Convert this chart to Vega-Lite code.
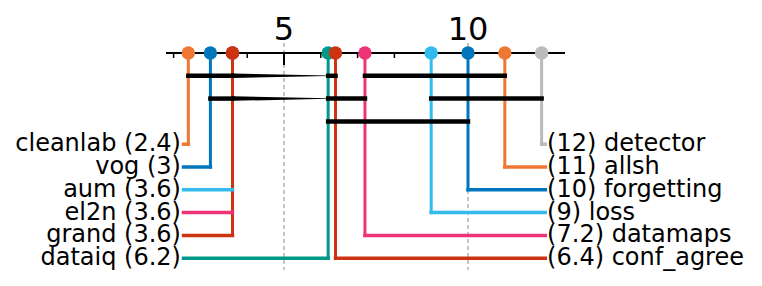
{
  "$schema": "https://vega.github.io/schema/vega-lite/v6.json",
  "width": 762,
  "height": 286,
  "autosize": "none",
  "padding": 0,
  "background": "white",
  "config": {"view": {"stroke": null}, "font": "DejaVu Sans"},
  "datasets": {
    "methods": [
      {"name": "cleanlab", "rank": 2.4, "side": "left", "row": 4, "label": "cleanlab (2.4)"},
      {"name": "vog", "rank": 3, "side": "left", "row": 5, "label": "vog (3)"},
      {"name": "aum", "rank": 3.6, "side": "left", "row": 6, "label": "aum (3.6)"},
      {"name": "el2n", "rank": 3.6, "side": "left", "row": 7, "label": "el2n (3.6)"},
      {"name": "grand", "rank": 3.6, "side": "left", "row": 8, "label": "grand (3.6)"},
      {"name": "dataiq", "rank": 6.2, "side": "left", "row": 9, "label": "dataiq (6.2)"},
      {"name": "conf_agree", "rank": 6.4, "side": "right", "row": 9, "label": "(6.4) conf_agree"},
      {"name": "datamaps", "rank": 7.2, "side": "right", "row": 8, "label": "(7.2) datamaps"},
      {"name": "loss", "rank": 9, "side": "right", "row": 7, "label": "(9) loss"},
      {"name": "forgetting", "rank": 10, "side": "right", "row": 6, "label": "(10) forgetting"},
      {"name": "allsh", "rank": 11, "side": "right", "row": 5, "label": "(11) allsh"},
      {"name": "detector", "rank": 12, "side": "right", "row": 4, "label": "(12) detector"}
    ],
    "ticks": [
      {"t": 2, "kind": "minor"}, {"t": 3, "kind": "minor"}, {"t": 4, "kind": "minor"},
      {"t": 6, "kind": "minor"}, {"t": 7, "kind": "minor"}, {"t": 8, "kind": "minor"},
      {"t": 9, "kind": "minor"}, {"t": 11, "kind": "minor"}, {"t": 12, "kind": "minor"},
      {"t": 5, "kind": "major"}, {"t": 10, "kind": "major"}
    ],
    "segments": [
      {"from": 2.4, "to": 3.6, "level": 1},
      {"from": 6.2, "to": 6.4, "level": 1},
      {"from": 7.2, "to": 11, "level": 1},
      {"from": 3, "to": 3.6, "level": 2},
      {"from": 6.2, "to": 7.2, "level": 2},
      {"from": 9, "to": 12, "level": 2},
      {"from": 6.2, "to": 10, "level": 3}
    ],
    "tapers": [
      {"bar": 1, "x": 3.6, "level": 1, "w": "thick"},
      {"bar": 1, "x": 6.2, "level": 1, "w": "thin"},
      {"bar": 2, "x": 3.6, "level": 2, "w": "thick"},
      {"bar": 2, "x": 6.2, "level": 2, "w": "thin"}
    ]
  },
  "layer": [
    {
      "data": {"name": "ticks"},
      "transform": [{"filter": "datum.kind == 'major'"}],
      "mark": {"type": "rule", "stroke": "#8a8a8a", "strokeWidth": 1, "strokeDash": [4, 3]},
      "encoding": {
        "x": {"field": "t", "type": "quantitative", "scale": {"domain": [-2.7174, 17.9891], "nice": false, "zero": false}, "axis": null},
        "y": {"datum": -0.44, "type": "quantitative", "scale": {"domain": [-2.3246, 10.2193], "nice": false, "zero": false, "reverse": true}, "axis": null},
        "y2": {"datum": 9.52}
      }
    },
    {
      "data": {"values": [{"from": 1.793, "to": 12.636}]},
      "mark": {"type": "rule", "stroke": "black", "strokeWidth": 2},
      "encoding": {
        "x": {"field": "from", "type": "quantitative"},
        "x2": {"field": "to"},
        "y": {"datum": 0, "type": "quantitative"}
      }
    },
    {
      "data": {"name": "ticks"},
      "transform": [{"filter": "datum.kind == 'minor'"}],
      "mark": {"type": "rule", "stroke": "black", "strokeWidth": 1.5},
      "encoding": {
        "x": {"field": "t", "type": "quantitative"},
        "y": {"datum": 0, "type": "quantitative"},
        "y2": {"datum": 0.22}
      }
    },
    {
      "data": {"name": "ticks"},
      "transform": [{"filter": "datum.kind == 'major'"}],
      "mark": {"type": "rule", "stroke": "black", "strokeWidth": 2},
      "encoding": {
        "x": {"field": "t", "type": "quantitative"},
        "y": {"datum": 0, "type": "quantitative"},
        "y2": {"datum": 0.53}
      }
    },
    {
      "data": {"name": "ticks"},
      "transform": [{"filter": "datum.kind == 'major'"}],
      "mark": {"type": "text", "fontSize": 32, "baseline": "alphabetic", "align": "center", "color": "black"},
      "encoding": {
        "x": {"field": "t", "type": "quantitative"},
        "y": {"datum": -0.57, "type": "quantitative"},
        "text": {"field": "t", "type": "quantitative"}
      }
    },
    {
      "data": {"name": "methods"},
      "mark": {"type": "rule", "strokeWidth": 3, "strokeCap": "square"},
      "encoding": {
        "x": {"field": "rank", "type": "quantitative"},
        "y": {"field": "row", "type": "quantitative"},
        "y2": {"datum": 0},
        "color": {"field": "name", "type": "nominal", "legend": null,
          "scale": {
            "domain": ["cleanlab", "vog", "aum", "el2n", "grand", "dataiq", "conf_agree", "datamaps", "loss", "forgetting", "allsh", "detector"],
            "range": ["#EE7733", "#0077BB", "#33BBEE", "#EE3377", "#CC3311", "#009988", "#CC3311", "#EE3377", "#33BBEE", "#0077BB", "#EE7733", "#BBBBBB"]
          }
        }
      }
    },
    {
      "data": {"name": "methods"},
      "transform": [{"filter": "datum.side == 'left'"}],
      "mark": {"type": "rule", "strokeWidth": 3.5, "strokeCap": "square"},
      "encoding": {
        "x": {"field": "rank", "type": "quantitative"},
        "x2": {"datum": 2.27},
        "y": {"field": "row", "type": "quantitative"},
        "color": {"field": "name", "type": "nominal", "legend": null}
      }
    },
    {
      "data": {"name": "methods"},
      "transform": [{"filter": "datum.side == 'right'"}],
      "mark": {"type": "rule", "strokeWidth": 3.5, "strokeCap": "square"},
      "encoding": {
        "x": {"field": "rank", "type": "quantitative"},
        "x2": {"datum": 12.1},
        "y": {"field": "row", "type": "quantitative"},
        "color": {"field": "name", "type": "nominal", "legend": null}
      }
    },
    {
      "data": {"name": "segments"},
      "mark": {"type": "rule", "stroke": "black", "strokeWidth": 4.5, "strokeCap": "square"},
      "encoding": {
        "x": {"field": "from", "type": "quantitative"},
        "x2": {"field": "to"},
        "y": {"field": "level", "type": "quantitative"}
      }
    },
    {
      "data": {"name": "tapers"},
      "mark": {"type": "trail", "color": "black"},
      "encoding": {
        "x": {"field": "x", "type": "quantitative"},
        "y": {"field": "level", "type": "quantitative"},
        "detail": {"field": "bar", "type": "nominal"},
        "order": {"field": "x", "type": "quantitative"},
        "size": {"field": "w", "type": "nominal", "legend": null, "scale": {"domain": ["thick", "thin"], "range": [4.5, 0.5]}}
      }
    },
    {
      "data": {"name": "methods"},
      "mark": {"type": "point", "shape": "circle", "filled": true, "opacity": 1, "size": 180},
      "encoding": {
        "x": {"field": "rank", "type": "quantitative"},
        "y": {"datum": 0, "type": "quantitative"},
        "color": {"field": "name", "type": "nominal", "legend": null}
      }
    },
    {
      "data": {"name": "methods"},
      "transform": [{"filter": "datum.side == 'left'"}],
      "mark": {"type": "text", "fontSize": 24, "align": "right", "baseline": "middle", "color": "black"},
      "encoding": {
        "x": {"datum": 2.2, "type": "quantitative"},
        "y": {"field": "row", "type": "quantitative"},
        "text": {"field": "label", "type": "nominal"}
      }
    },
    {
      "data": {"name": "methods"},
      "transform": [{"filter": "datum.side == 'right'"}],
      "mark": {"type": "text", "fontSize": 24, "align": "left", "baseline": "middle", "color": "black"},
      "encoding": {
        "x": {"datum": 12.15, "type": "quantitative"},
        "y": {"field": "row", "type": "quantitative"},
        "text": {"field": "label", "type": "nominal"}
      }
    }
  ]
}
